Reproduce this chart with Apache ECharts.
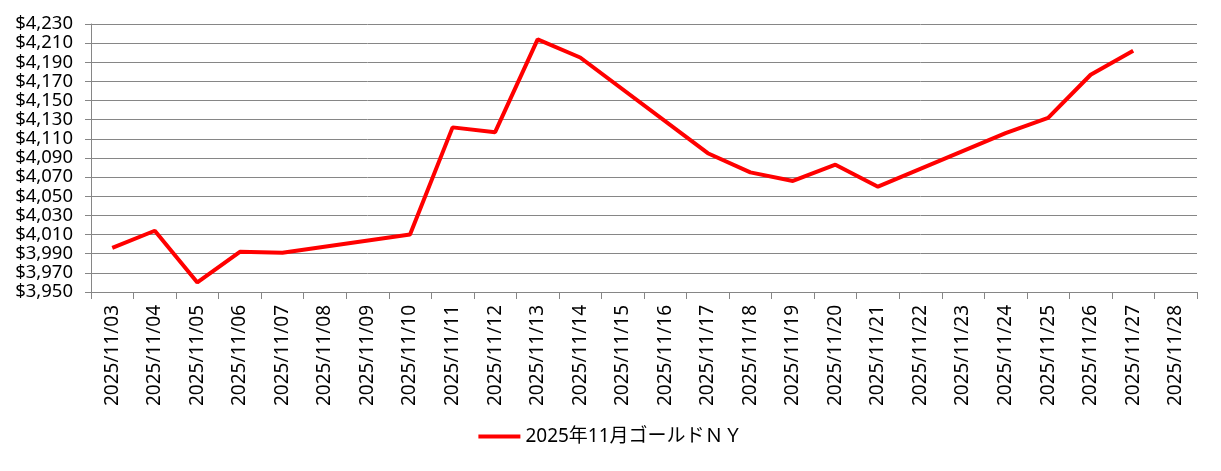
<!DOCTYPE html>
<html>
<head>
<meta charset="utf-8">
<script src="https://cdn.jsdelivr.net/npm/echarts@6/dist/echarts.min.js"></script>
<style>
html,body{margin:0;padding:0;background:#fff;}
#chart{width:1221px;height:471px;}
</style>
</head>
<body>
<div id="chart"></div>
<script>
const categories = ['2025/11/03','2025/11/04','2025/11/05','2025/11/06','2025/11/07','2025/11/08','2025/11/09','2025/11/10','2025/11/11','2025/11/12','2025/11/13','2025/11/14','2025/11/15','2025/11/16','2025/11/17','2025/11/18','2025/11/19','2025/11/20','2025/11/21','2025/11/22','2025/11/23','2025/11/24','2025/11/25','2025/11/26','2025/11/27','2025/11/28'];
const seriesName = '2025年11月ゴールドＮＹ';
const goldNY = [3996, 4014, 3960, 3992, 3991, null, null, 4010, 4122, 4117, 4214, 4195, null, null, 4095, 4075, 4066, 4083, 4060, null, null, 4116, 4132, 4177, 4202, null];
const yMin = 3950, yMax = 4230, yStep = 20;

const font = '"Noto Sans", "Noto Sans CJK JP", sans-serif';
const chart = echarts.init(document.getElementById('chart'));
chart.setOption({
  animation: false,
  backgroundColor: '#ffffff',
  grid: {left: 91, right: 24, top: 24, bottom: 179},
  legend: {
    bottom: 20, left: 'center',
    icon: 'rect', itemWidth: 42, itemHeight: 4, itemGap: 4,
    textStyle: {fontFamily: font, fontSize: 19, color: '#000'},
    data: [seriesName]
  },
  xAxis: {
    type: 'category', data: categories, boundaryGap: true,
    axisLine: {lineStyle: {color: '#868686', width: 1}},
    axisTick: {show: true, length: 7, lineStyle: {color: '#868686'}},
    axisLabel: {rotate: 90, interval: 0, margin: 13, fontFamily: font, fontSize: 19, color: '#000'},
    splitLine: {show: false}
  },
  yAxis: {
    type: 'value', min: yMin, max: yMax, interval: yStep,
    axisLine: {show: true, lineStyle: {color: '#868686', width: 1}},
    axisTick: {show: true, length: 6, lineStyle: {color: '#868686'}},
    axisLabel: {
      margin: 18, fontFamily: font, fontSize: 18.5, color: '#000',
      formatter: v => '$' + v.toLocaleString('en-US')
    },
    splitLine: {show: true, lineStyle: {color: '#868686', width: 1}}
  },
  series: [{
    name: seriesName, type: 'line', data: goldNY,
    connectNulls: true, showSymbol: false, symbol: 'none',
    lineStyle: {color: '#ff0000', width: 4},
    itemStyle: {color: '#ff0000'}
  }]
});
</script>
</body>
</html>
